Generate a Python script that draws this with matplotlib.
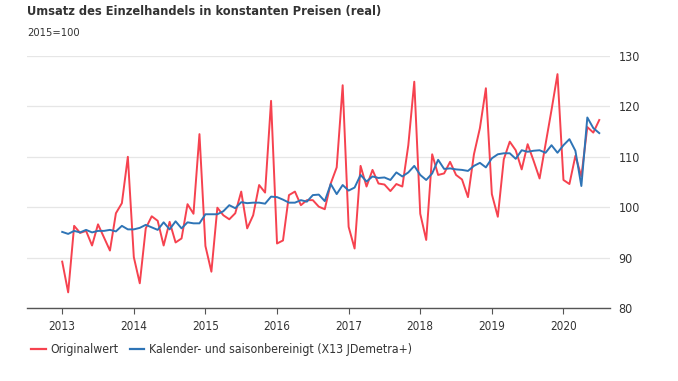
import matplotlib.pyplot as plt
from matplotlib.lines import Line2D

# monthly values, Jan 2013 .. Jul 2020
original = [
    89.2, 83.1, 96.3, 94.9, 95.3, 92.4, 96.6, 94.0, 91.4, 98.8, 100.8, 110.0,   # 2013
    90.1, 84.9, 95.8, 98.2, 97.3, 92.4, 97.1, 93.0, 93.8, 100.6, 98.7, 114.5,   # 2014
    92.3, 87.2, 99.9, 98.4, 97.6, 98.8, 103.1, 95.8, 98.4, 104.4, 102.9, 121.1,  # 2015
    92.8, 93.4, 102.4, 103.1, 100.4, 101.4, 101.4, 100.1, 99.6, 104.7, 107.9, 124.2,  # 2016
    96.1, 91.8, 108.2, 104.1, 107.4, 104.7, 104.5, 103.2, 104.6, 104.1, 112.3, 124.9,  # 2017
    98.7, 93.5, 110.5, 106.4, 106.7, 109.0, 106.4, 105.5, 102.0, 110.5, 115.7, 123.6,  # 2018
    102.6, 98.1, 109.5, 113.0, 111.3, 107.5, 112.5, 109.2, 105.7, 112.5, 119.3, 126.4,  # 2019
    105.4, 104.6, 110.2, 106.1, 115.9, 114.8, 117.3,  # 2020
]
adjusted = [
    95.1, 94.7, 95.3, 95.0, 95.5, 95.0, 95.3, 95.3, 95.5, 95.2, 96.3, 95.6,   # 2013
    95.6, 95.9, 96.5, 96.0, 95.5, 97.0, 95.6, 97.2, 95.8, 97.0, 96.8, 96.8,   # 2014
    98.6, 98.6, 98.6, 99.2, 100.4, 99.8, 101.0, 100.8, 100.9, 100.9, 100.7, 102.1,  # 2015
    102.0, 101.5, 100.9, 100.9, 101.4, 101.1, 102.4, 102.5, 101.2, 104.6, 102.6, 104.4,  # 2016
    103.3, 103.9, 106.4, 105.1, 106.1, 105.8, 105.9, 105.4, 106.9, 106.1, 106.9, 108.2,  # 2017
    106.4, 105.4, 106.7, 109.4, 107.6, 107.7, 107.5, 107.4, 107.2, 108.2, 108.8, 107.9,  # 2018
    109.7, 110.5, 110.7, 110.7, 109.6, 111.3, 111.0, 111.2, 111.3, 110.8, 112.3, 110.8,  # 2019
    112.3, 113.5, 111.2, 104.2, 117.8, 115.7, 114.7,  # 2020
]
years = list(range(2013, 2021))
yticks = [80, 90, 100, 110, 120, 130]

red = '#f6424f'
blue = '#2e74b6'
txt = '#333333'
plt.rcParams['font.family'] = ['DejaVu Sans']
plt.rcParams['font.stretch'] = 'condensed'

fig = plt.figure(figsize=(6.78, 3.81), dpi=100)
ax = fig.add_axes([27 / 678, 1 - 308 / 381, (610 - 27) / 678, (308 - 56) / 381])

months = list(range(len(original)))
ax.plot(months, original, color=red, lw=1.4)
ax.plot(months, adjusted, color=blue, lw=1.4)

ax.set_xlim(-5.9, 91.8)
ax.set_ylim(80, 130)
ax.set_xticks([(y - 2013) * 12 for y in years])
ax.set_xticklabels([str(y) for y in years], fontsize=8.5, color=txt)
ax.set_yticks(yticks)
ax.set_yticklabels([str(v) for v in yticks], fontsize=9, color=txt)
ax.yaxis.tick_right()
ax.tick_params(axis='y', length=0, pad=6)
ax.tick_params(axis='x', length=4, color='#555555', pad=5)
for lbl in ax.get_yticklabels():
    lbl.set_horizontalalignment('left')
ax.grid(axis='y', color='#e6e6e6', lw=0.9)
ax.set_axisbelow(True)
for s in ['top', 'left', 'right']:
    ax.spines[s].set_visible(False)
ax.spines['bottom'].set_color('#555555')
ax.spines['bottom'].set_linewidth(1.0)

fig.text(27 / 678, 1 - 12 / 381, 'Umsatz des Einzelhandels in konstanten Preisen (real)',
         fontsize=9.2, fontweight='bold', color=txt, va='center')
fig.text(27 / 678, 1 - 33 / 381, '2015=100', fontsize=8, color=txt, va='center')

handles = [Line2D([], [], color=red, lw=1.6), Line2D([], [], color=blue, lw=1.6)]
fig.legend(handles, ['Originalwert', 'Kalender- und saisonbereinigt (X13 JDemetra+)'],
           loc='center left', bbox_to_anchor=(20 / 678, 1 - 350 / 381), ncol=2,
           frameon=False, fontsize=8.8, handlelength=1.2, handletextpad=0.4,
           columnspacing=0.9, labelcolor=txt)

fig.savefig('out.png', dpi=100)
